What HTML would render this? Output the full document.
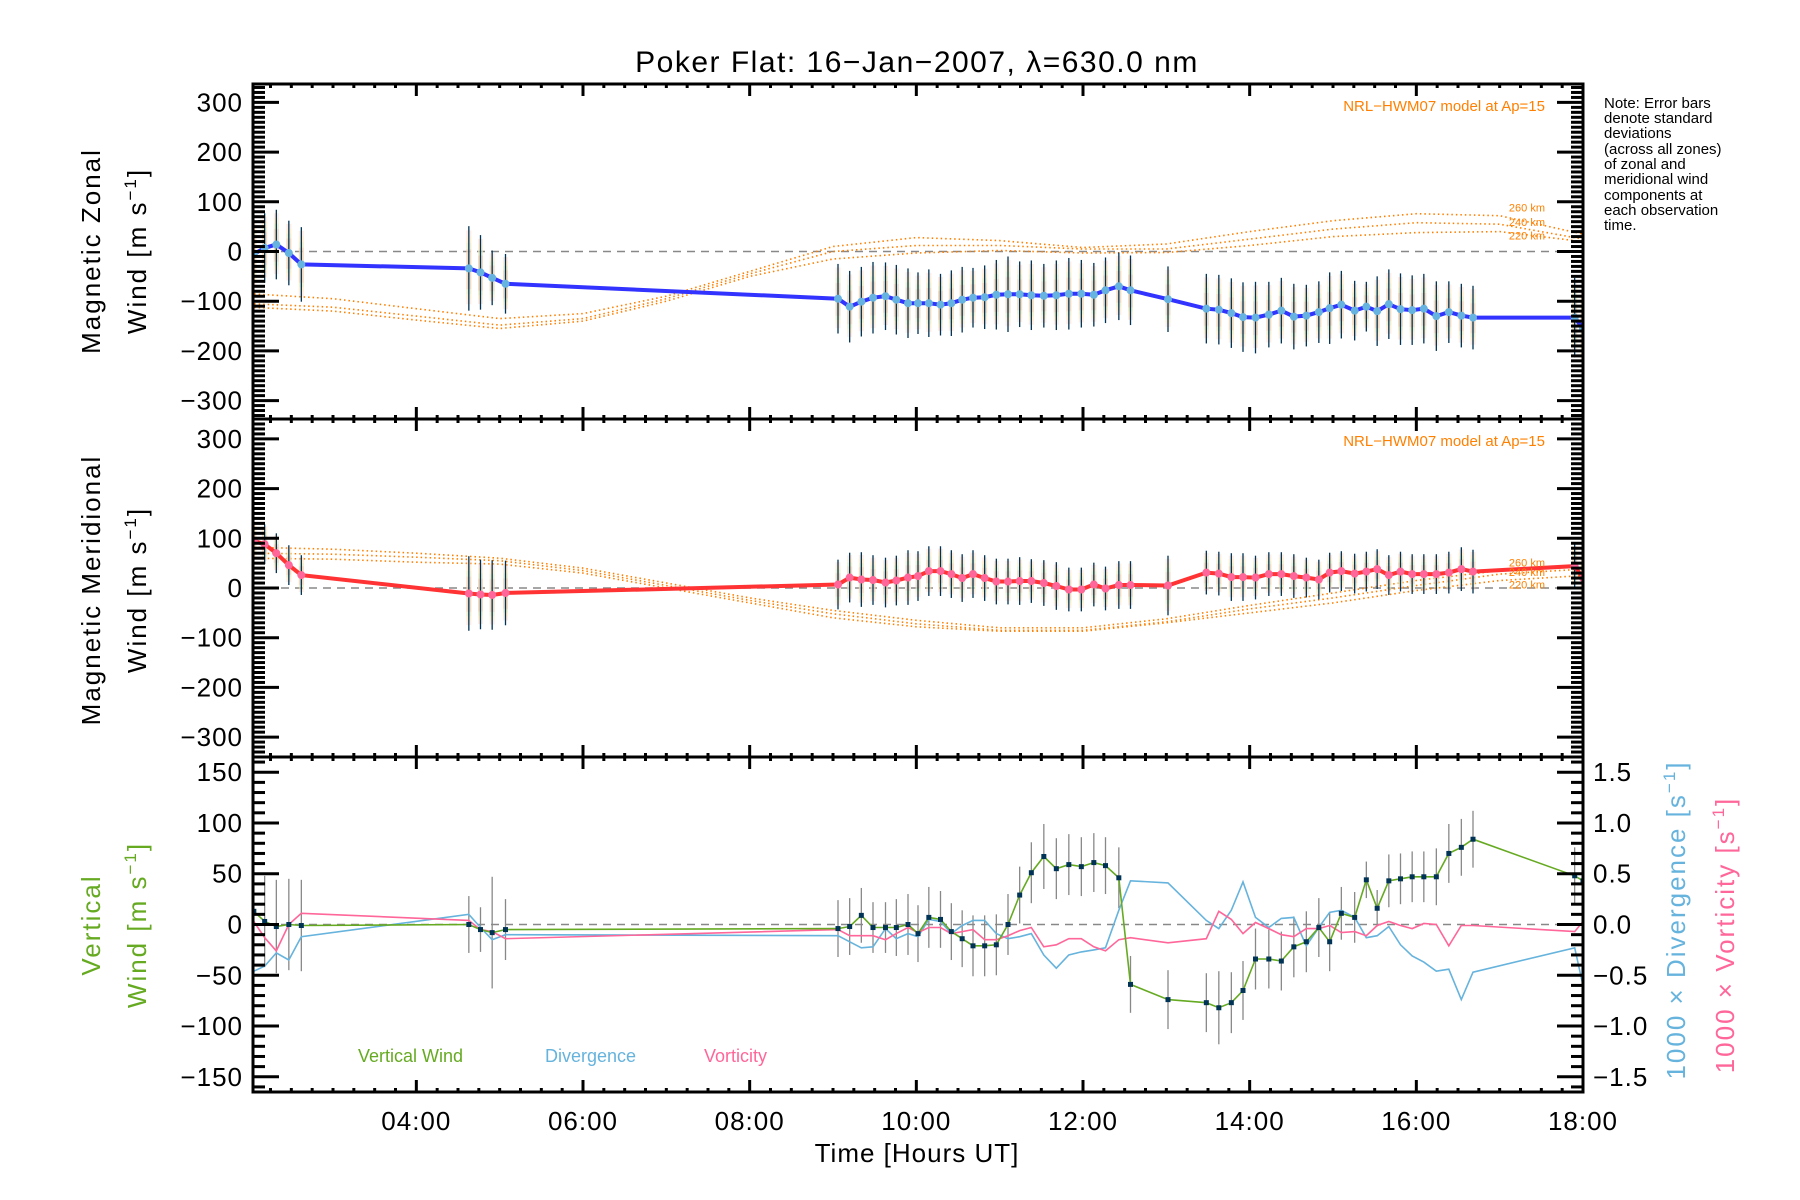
<!DOCTYPE html>
<html><head><meta charset="utf-8"><style>
html,body{margin:0;padding:0;background:#fff;}
svg{display:block;font-family:"Liberation Sans",sans-serif;}
</style></head><body>
<svg id="chart" xmlns="http://www.w3.org/2000/svg" width="1800" height="1200" viewBox="0 0 1800 1200">
<rect x="0" y="0" width="1800" height="1200" fill="#fff"/>
<text x="917" y="72" font-size="30" text-anchor="middle" letter-spacing="1.5">Poker Flat: 16−Jan−2007, λ=630.0 nm</text>
<g id="plots"></g>
<g font-size="15" fill="#000">
<text x="1604" y="108">Note: Error bars</text>
<text x="1604" y="123">denote standard</text>
<text x="1604" y="138">deviations</text>
<text x="1604" y="154">(across all zones)</text>
<text x="1604" y="169">of zonal and</text>
<text x="1604" y="184">meridional wind</text>
<text x="1604" y="200">components at</text>
<text x="1604" y="215">each observation</text>
<text x="1604" y="230">time.</text>
</g>
<g font-size="26" letter-spacing="2">
<text transform="translate(100,251) rotate(-90)" text-anchor="middle">Magnetic  Zonal</text>
<text transform="translate(146,251) rotate(-90)" text-anchor="middle">Wind  [m  s<tspan font-size="17" dy="-10">−1</tspan><tspan dy="10">]</tspan></text>
</g>
<g font-size="26" letter-spacing="2">
<text transform="translate(100,590) rotate(-90)" text-anchor="middle">Magnetic  Meridional</text>
<text transform="translate(146,590) rotate(-90)" text-anchor="middle">Wind  [m  s<tspan font-size="17" dy="-10">−1</tspan><tspan dy="10">]</tspan></text>
</g>
<g font-size="26" fill="#66aa22" letter-spacing="2">
<text transform="translate(100,925) rotate(-90)" text-anchor="middle">Vertical</text>
<text transform="translate(146,925) rotate(-90)" text-anchor="middle">Wind  [m  s<tspan font-size="17" dy="-10">−1</tspan><tspan dy="10">]</tspan></text>
</g>
<text transform="translate(1685,920) rotate(-90)" text-anchor="middle" font-size="26" fill="#66b3dd" letter-spacing="2">1000 × Divergence  [s<tspan font-size="17" dy="-10">−1</tspan><tspan dy="10">]</tspan></text>
<text transform="translate(1734,935) rotate(-90)" text-anchor="middle" font-size="26" fill="#ff6699" letter-spacing="2">1000 × Vorticity  [s<tspan font-size="17" dy="-10">−1</tspan><tspan dy="10">]</tspan></text>
<text x="358" y="1062" font-size="18" fill="#66aa22">Vertical Wind</text>
<text x="545" y="1062" font-size="18" fill="#66b3dd">Divergence</text>
<text x="704" y="1062" font-size="18" fill="#ff6699">Vorticity</text>
<text x="917" y="1162" font-size="26" text-anchor="middle" letter-spacing="1">Time [Hours UT]</text>
</svg>
<script>
const times = [2.05,2.18,2.32,2.47,2.62, 4.63,4.77,4.91,5.07,
 9.06,9.20,9.34,9.48,9.63,9.76,9.90,10.02,10.15,10.29,10.42,10.55,10.68,10.82,10.96,11.10,11.24,11.38,11.53,11.68,11.83,11.98,12.13,12.27,12.43,12.57,
 13.02,
 13.48,13.63,13.78,13.92,14.07,14.23,14.38,14.53,14.68,14.83,14.96,15.10,15.26,15.40,15.53,15.67,15.81,15.95,16.09,16.24,16.39,16.54,16.68,
 17.90,18.0];
const zonal = [-5,7,14,-3,-26, -34,-42,-53,-65,
 -95,-111,-101,-93,-90,-97,-104,-104,-104,-107,-104,-97,-93,-92,-87,-86,-86,-88,-89,-88,-85,-85,-87,-78,-70,-78,
 -96,
 -115,-117,-124,-132,-133,-127,-119,-131,-129,-122,-114,-107,-119,-111,-120,-106,-116,-118,-115,-130,-122,-129,-133,
 -133,-155];
const meridional = [95,88,70,46,26, -11,-13,-14,-10,
 7,21,17,16,11,15,21,24,34,34,28,20,28,20,13,13,14,14,10,4,-3,-3,7,-1,6,6,
 5,
 31,29,22,22,21,28,28,24,21,17,31,34,29,33,38,26,33,28,28,28,31,38,33,
 44,20];
const zonalErr = [75,70,70,65,75, 85,75,55,60,
 70,72,70,72,68,70,70,62,68,62,66,66,60,64,70,76,66,70,64,70,72,68,64,66,68,70,
 66,
 70,70,70,70,72,66,66,66,62,62,72,68,60,50,70,70,72,70,70,70,62,64,64,
 80,80];
const meridErr = [40,40,40,40,40, 75,70,70,65,
 50,50,55,50,50,50,55,50,50,50,48,48,48,46,46,46,48,44,46,48,44,44,44,44,48,48,
 60,
 44,44,48,48,44,44,44,44,40,40,40,40,40,40,40,40,40,40,40,40,42,44,44,
 45,45];
const vertical = [13,3,-2,0,-1, 0,-5,-8,-5,
 -4,-2,9,-3,-3,-3,0,-9,7,5,-7,-14,-21,-21,-20,0,29,51,67,55,59,57,61,58,46,-59,
 -74,
 -77,-82,-77,-65,-34,-34,-36,-22,-17,-3,-17,11,7,44,16,43,45,47,47,47,70,76,84,
 48,43];
const verticalErr = [40,45,46,45,45, 28,22,55,30,
 28,28,27,25,25,28,30,28,30,28,28,28,30,30,30,30,28,30,32,30,30,29,29,28,30,28,
 29,
 29,36,30,29,30,29,29,30,30,29,29,26,25,18,18,26,25,25,25,28,29,28,28,
 28,28];
const divergence = [-0.46,-0.41,-0.28,-0.35,-0.12, 0.10,-0.03,-0.15,-0.10,
 -0.11,-0.17,-0.23,-0.22,-0.04,-0.14,-0.09,-0.12,0.05,0.03,-0.09,-0.01,0.04,0.04,-0.09,-0.14,-0.12,-0.09,-0.30,-0.43,-0.30,-0.27,-0.25,-0.23,0.14,0.43,
 0.41,
 0.04,-0.04,0.14,0.42,0.07,-0.03,0.06,0.07,-0.21,-0.03,0.12,0.14,0.07,-0.13,-0.11,-0.02,-0.20,-0.31,-0.37,-0.46,-0.44,-0.74,-0.47,
 -0.23,-0.6];
const vorticity = [0.03,-0.13,-0.26,0,0.11, 0.04,-0.05,-0.07,-0.14,
 -0.05,-0.11,-0.11,-0.11,-0.15,-0.09,-0.03,-0.08,-0.03,-0.03,-0.09,-0.07,-0.05,-0.15,-0.15,-0.11,-0.06,-0.03,-0.22,-0.20,-0.14,-0.14,-0.22,-0.26,-0.15,-0.13,
 -0.18,
 -0.14,0.13,0.05,-0.09,0.02,-0.04,-0.10,-0.12,-0.04,-0.04,-0.01,-0.08,-0.07,-0.11,-0.01,0.03,-0.01,-0.04,0.01,0,-0.21,-0.01,-0.01,
 -0.07,0.03];
const modelTimes = [2,3,4,5,6,7,8,9,10,11,12,13,14,15,16,17,18];
const zonal260 = [-85,-95,-115,-135,-125,-90,-40,10,28,22,8,15,40,62,76,72,35];
const zonal240 = [-105,-112,-130,-148,-135,-95,-45,0,12,12,5,5,25,45,58,55,25];
const zonal220 = [-112,-120,-138,-155,-140,-100,-50,-15,-3,2,-3,-2,12,30,38,40,20];
const merid260 = [82,78,70,60,40,10,-20,-45,-65,-80,-80,-62,-35,-10,15,35,45];
const merid240 = [70,68,62,55,35,5,-25,-52,-72,-85,-85,-68,-42,-20,5,28,38];
const merid220 = [60,58,52,48,30,0,-30,-60,-78,-87,-87,-70,-50,-30,-5,15,25];
const xTickHours = [4,6,8,10,12,14,16,18];
const xTickLabels = ["04:00","06:00","08:00","10:00","12:00","14:00","16:00","18:00"];
const windTicks = [-300,-200,-100,0,100,200,300];
const vertTicks = [-150,-100,-50,0,50,100,150];
const rightTicks = [-1.5,-1.0,-0.5,0.0,0.5,1.0,1.5];

const NS = "http://www.w3.org/2000/svg";
const root = document.getElementById('plots');
const X0 = 253, X1 = 1583, TMIN = 2.04, TMAX = 18.0;
const xScale = t => X0 + (t - TMIN) / (TMAX - TMIN) * (X1 - X0);
function yScaleMaker(top, bottom, vmin, vmax){ return v => bottom - (v - vmin) / (vmax - vmin) * (bottom - top); }
const P1 = {top:84, bottom:419}, P2 = {top:419, bottom:757}, P3 = {top:757, bottom:1092};
const y1 = yScaleMaker(P1.top, P1.bottom, -337, 337);
const y2 = yScaleMaker(P2.top, P2.bottom, -340, 340);
const y3 = yScaleMaker(P3.top, P3.bottom, -165, 165);
const y3r = yScaleMaker(P3.top, P3.bottom, -1.65, 1.65);

function mk(tag, attrs, parent){
  const e = document.createElementNS(NS, tag);
  for (const k in attrs) e.setAttribute(k, attrs[k]);
  (parent || root).appendChild(e);
  return e;
}
function polyline(xs, ys, stroke, width, dash, name){
  const pts = xs.map((x,i)=>x.toFixed(1)+','+ys[i].toFixed(1)).join(' ');
  const e = mk('polyline', {points:pts, fill:'none', stroke:stroke, 'stroke-width':width});
  if (dash) e.setAttribute('stroke-dasharray', dash);
  
  
  return e;
}
function clip(id, p){
  const d = mk('clipPath', {id:id});
  mk('rect', {x:X0, y:p.top, width:X1-X0, height:p.bottom-p.top}, d);
}
clip('c1', P1); clip('c2', P2); clip('c3', P3);

function frame(p, name){
  const r = mk('rect', {x:X0, y:p.top, width:X1-X0, height:p.bottom-p.top, fill:'none', stroke:'#000', 'stroke-width':3});
  
  
  for (let t = 2.25; t <= 18.001; t += 0.25){
    const x = xScale(t);
    const major = Math.abs(t - Math.round(t)) < 1e-6 && Math.round(t) % 2 === 0;
    const len = major ? 12 : 4;
    mk('line', {x1:x, y1:p.bottom, x2:x, y2:p.bottom-len, stroke:'#000', 'stroke-width':3});
    mk('line', {x1:x, y1:p.top, x2:x, y2:p.top+len, stroke:'#000', 'stroke-width':3});
  }
}
function yTicks(p, ys, vmin, vmax, major, minor, labels, side, labelFn, name){
  const g = mk('g', {});
  
  
  const start = Math.ceil(vmin / minor) * minor;
  for (let v = start; v <= vmax + 1e-9; v += minor){
    const y = ys(v);
    if (y < p.top + 1 || y > p.bottom - 1) continue;
    const isMaj = Math.abs(v / major - Math.round(v / major)) < 1e-6;
    const len = isMaj ? 26 : 12;
    if (side === 'left' || side === 'both') mk('line', {x1:X0, y1:y, x2:X0+len, y2:y, stroke:'#000', 'stroke-width':3}, g);
    if (side === 'right' || side === 'both') mk('line', {x1:X1, y1:y, x2:X1-len, y2:y, stroke:'#000', 'stroke-width':3}, g);
  }
  labels.forEach(v => {
    const t = mk('text', {x: labelFn.x, y: ys(v) + 9, 'font-size':26, 'text-anchor': labelFn.anchor, 'letter-spacing':1}, g);
    t.textContent = labelFn.fmt(v);
  });
}
const fmtInt = v => (v < 0 ? '−' + Math.abs(v) : String(v));
const fmtDec = v => (v < 0 ? '−' + Math.abs(v).toFixed(1) : v.toFixed(1));

function zeroLine(ys, clipId){
  const l = mk('line', {x1:X0, y1:ys(0), x2:X1, y2:ys(0), stroke:'#888', 'stroke-width':1.5, 'stroke-dasharray':'8,6', 'clip-path':'url(#'+clipId+')'});
  
  
}

function windPanel(p, ys, vals, errs, models, lineColor, dotColor, clipId, pname){
  zeroLine(ys, clipId);
  const g = mk('g', {'clip-path':'url(#'+clipId+')'});
  
  
  const mcol = '#ff8000';
  models.forEach((m, k) => {
    const pl = polyline(modelTimes.map(xScale), m.map(ys), mcol, 1.6, '1.5,3', pname + '-model-' + ['260','240','220'][k]);
    g.appendChild(pl);
  });
  const pastels = ['#ffc8b0','#fff4b0','#d0f0c8','#f8b8b0'];
  times.forEach((t,i)=>{
    const x = xScale(t), e = errs[i], v = vals[i];
    pastels.forEach((c,k)=>{
      const band = mk('rect', {x:x-2.5, y:ys(v+e*(0.9-k*0.15)), width:5, height:Math.abs(ys(v-e*(0.85-k*0.12))-ys(v+e*(0.9-k*0.15))), fill:c, opacity:0.35}, g);
      
      
    });
    const eb = mk('line', {x1:x, y1:ys(v+e), x2:x, y2:ys(v-e), stroke:'#003355', 'stroke-width':1.3}, g);
    
    
  });
  g.appendChild(polyline(times.map(xScale), vals.map(ys), lineColor, 4, null, pname + '-wind-line'));
  times.forEach((t,i)=>{
    const c = mk('circle', {cx:xScale(t), cy:ys(vals[i]), r:4, fill:dotColor}, g);
    
    
  });
  const lbl = mk('text', {x:1545, y:p.top + 27, 'font-size':15, fill:'#ff8000', 'text-anchor':'end'});
  lbl.textContent = 'NRL−HWM07 model at Ap=15';
  
  
  ['260 km','240 km','220 km'].forEach((s,k)=>{
    const m = models[k];
    const tl = mk('text', {x:1545, y:ys(m[15]) + 2 + (k===0?-6:k===2?6:0), 'font-size':11, fill:'#ff8000', 'text-anchor':'end'});
    tl.textContent = s;
    
    
  });
}

windPanel(P1, y1, zonal, zonalErr, [zonal260, zonal240, zonal220], '#3333ff', '#66b3e0', 'c1', 'zonal');
windPanel(P2, y2, meridional, meridErr, [merid260, merid240, merid220], '#ff3333', '#ff6699', 'c2', 'meridional');

zeroLine(y3, 'c3');
const g3 = mk('g', {'clip-path':'url(#c3)'});


times.forEach((t,i)=>{
  const x = xScale(t);
  const eb = mk('line', {x1:x, y1:y3(vertical[i]+verticalErr[i]), x2:x, y2:y3(vertical[i]-verticalErr[i]), stroke:'#888', 'stroke-width':1.3}, g3);
  
  
});
g3.appendChild(polyline(times.map(xScale), divergence.map(y3r), '#66b3dd', 1.6, null, 'divergence-line'));
g3.appendChild(polyline(times.map(xScale), vorticity.map(y3r), '#ff6699', 1.6, null, 'vorticity-line'));
g3.appendChild(polyline(times.map(xScale), vertical.map(y3), '#66aa22', 1.6, null, 'vertical-wind-line'));
times.forEach((t,i)=>{
  const d = mk('rect', {x:xScale(t)-2.5, y:y3(vertical[i])-2.5, width:5, height:5, fill:'#003355'}, g3);
  
  
});

frame(P1, 'zonal-frame'); frame(P2, 'meridional-frame'); frame(P3, 'vertical-frame');
yTicks(P1, y1, -337, 337, 100, 10, windTicks, 'both', {x:243, anchor:'end', fmt:fmtInt}, 'zonal-y-axis');
yTicks(P2, y2, -340, 340, 100, 10, windTicks, 'both', {x:243, anchor:'end', fmt:fmtInt}, 'meridional-y-axis');
yTicks(P3, y3, -165, 165, 50, 10, vertTicks, 'left', {x:243, anchor:'end', fmt:fmtInt}, 'vertical-y-axis');
yTicks(P3, y3r, -1.65, 1.65, 0.5, 0.1, rightTicks, 'right', {x:1593, anchor:'start', fmt:fmtDec}, 'divergence-y-axis');

const gx = mk('g', {});


xTickHours.forEach((h,i)=>{
  const t = mk('text', {x:xScale(h), y:1130, 'font-size':26, 'text-anchor':'middle', 'letter-spacing':1}, gx);
  t.textContent = xTickLabels[i];
});
</script>
</body></html>
